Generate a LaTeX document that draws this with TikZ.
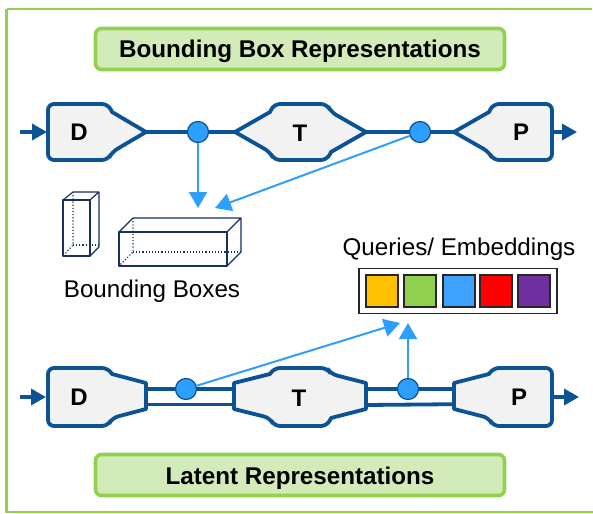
\documentclass[tikz,border=0pt]{standalone}
\usepackage{fontspec}
\setmainfont{Liberation Sans}
\usetikzlibrary{arrows.meta}
\definecolor{navy}{HTML}{0B5394}
\definecolor{sky}{HTML}{2E9EFF}
\definecolor{grn}{HTML}{92D050}
\definecolor{lgrn}{HTML}{D3EBB9}
\definecolor{shapefill}{HTML}{F2F2F2}
\definecolor{boxc}{HTML}{17305F}
\tikzset{
  x=1pt,y=-1pt,
  block/.style={draw=navy,fill=shapefill,line width=3.8pt,line join=round},
  rail/.style={draw=navy,line width=3.8pt},
  io/.style={draw=navy,line width=3.4pt,-{Triangle[length=15pt,width=16pt]}},
  tap/.style={circle,draw=navy,fill=sky,line width=1.2pt,minimum size=21pt,inner sep=0pt},
  feed/.style={draw=sky,line width=2pt,-{Triangle[length=16pt,width=18pt]}},
  title/.style={draw=grn,fill=lgrn,line width=3.6pt,rounded corners=6pt,minimum width=409pt,minimum height=41pt,font=\fontsize{24.2pt}{28pt}\selectfont\bfseries,inner sep=0pt,text height=20pt,text depth=2pt},
  letter/.style={font=\fontsize{24pt}{28pt}\selectfont\bfseries,inner sep=0pt},
  lbl/.style={font=\fontsize{24.2pt}{28pt}\selectfont,inner sep=0pt},
  solidbox/.style={draw=boxc,line width=1.15pt,line join=round},
  hidden/.style={draw=boxc,line width=1.15pt,dotted},
  chip/.style={draw=black!85,line width=1.1pt,minimum width=32pt,minimum height=32pt,inner sep=0pt},
}
\begin{document}
\begin{tikzpicture}
\useasboundingbox (0,0) rectangle (593,513);
\fill[white] (0,0) rectangle (593,513);
\draw[grn,line width=2.8pt] (6.5,9) -- (592,9);
\draw[grn,line width=2.8pt] (6.5,9) -- (6.5,512) -- (593,512);
% titles
\node[title] (t1) at (300,49) {Bounding Box Representations};
\node[title] (t2) at (300,475) {Latent Representations};
% top row shapes
\coordinate (dtip) at (146,132);
\coordinate (ttipl) at (235,132);
\coordinate (ttipr) at (366,132);
\coordinate (ptip) at (454,132);
\coordinate (din) at (20,132);
\coordinate (pout) at (577,132);
\path[block] (dtip) -- (112,112) [rounded corners=6pt] -- (108,104) -- (48,104) -- (48,160) -- (108,160) -- (112,152) [sharp corners] -- cycle;
\path[block] (ttipl) -- (270,112) [rounded corners=6pt] -- (274,104) -- (327,104) -- (331,112) [sharp corners] -- (ttipr) -- (331,152) [rounded corners=6pt] -- (327,160) -- (274,160) -- (270,152) [sharp corners] -- cycle;
\path[block] (ptip) -- (489,112) [rounded corners=6pt] -- (493,104) -- (552,104) -- (552,160) -- (493,160) -- (489,152) [sharp corners] -- cycle;
\node[letter] (dl) at (79,132.5) {D};
\node[letter] (tl) at (300,133) {T};
\node[letter] (pl) at (521,132.5) {P};
\node[tap] (c1) at (198,132) {};
\node[tap] (c2) at (420,132) {};
\draw[rail] (dtip) -- (c1);
\draw[rail] (c1) -- (ttipl);
\draw[rail] (ttipr) -- (c2);
\draw[rail] (c2) -- (ptip);
\draw[io] (din) -- (47,132);
\draw[io] (553,132) -- (pout);
\coordinate (ta) at (198,208);
\coordinate (tb) at (215,208);
\draw[feed] (c1) -- (ta);
\draw[feed] (c2) -- (tb);
% small box
\draw[hidden] (73,192) -- (73,245) -- (63,256);
\draw[hidden] (73,245) -- (99,245);
\draw[solidbox] (63,200) rectangle (90,256);
\draw[solidbox] (63,200) -- (73,192) -- (99,192) -- (90,200);
\draw[solidbox] (99,192) -- (99,247) -- (90,256);
% large box
\draw[hidden] (133,218) -- (133,252) -- (119,266);
\draw[hidden] (133,252) -- (241,252);
\draw[solidbox] (119,232) rectangle (227,266);
\draw[solidbox] (119,232) -- (133,218) -- (241,218) -- (227,232);
\draw[solidbox] (241,218) -- (241,252) -- (227,266);
\node[lbl] (bb) at (152,291) {Bounding Boxes};
% queries
\node[lbl] (qe) at (459,249) {Queries/ Embeddings};
\node[draw=black!85,fill=white,line width=1.3pt,minimum width=198pt,minimum height=45pt,inner sep=0pt] (qb) at (458,291) {};
\node[chip,fill={rgb,255:red,255;green,192;blue,0}] (q1) at (382,291) {};
\node[chip,fill=grn] (q2) at (420,291) {};
\node[chip,fill={rgb,255:red,62;green,160;blue,255}] (q3) at (459,291) {};
\node[chip,fill=red] (q4) at (496,291) {};
\node[chip,fill={rgb,255:red,112;green,48;blue,160}] (q5) at (534,291) {};
% bottom row
\path[block] (146,383) -- (112,374) [rounded corners=6pt] -- (108,368) -- (48,368) -- (48,426) -- (108,426) -- (112,418) [sharp corners] -- (146,409) -- cycle;
\path[block] (234,383) -- (270,374) [rounded corners=6pt] -- (274,368) -- (327,368) -- (331,374) [sharp corners] -- (366,383) -- (366,409) -- (331,418) [rounded corners=6pt] -- (327,426) -- (274,426) -- (270,418) [sharp corners] -- (234,409) -- cycle;
\path[block] (454,383) -- (489,374) [rounded corners=6pt] -- (493,368) -- (552,368) -- (552,426) -- (493,426) -- (489,418) [sharp corners] -- (454,409) -- cycle;
\node[letter] (dl2) at (79,397.5) {D};
\node[letter] (tl2) at (299,398) {T};
\node[letter] (pl2) at (519,397.5) {P};
\coordinate (ra) at (146,389);
\coordinate (rb) at (234,389);
\coordinate (rc) at (366,389);
\coordinate (rd) at (454,389);
\node[tap] (c3) at (186,389) {};
\node[tap] (c4) at (408,389) {};
\draw[rail] (ra) -- (c3);
\draw[rail] (c3) -- (rb);
\draw[rail] (rc) -- (c4);
\draw[rail] (c4) -- (rd);
\draw[rail] (146,404.5) -- (234,404.5);
\draw[rail] (366,405) -- (454,404.2);
\coordinate (din2) at (20,397);
\coordinate (pout2) at (579,397);
\draw[io] (din2) -- (46,397);
\draw[io] (553,397) -- (pout2);
\coordinate (qa) at (400,323);
\coordinate (qc) at (408,323);
\draw[feed] (c3) -- (qa);
\draw[feed] (c4) -- (qc);
\end{tikzpicture}
\end{document}
